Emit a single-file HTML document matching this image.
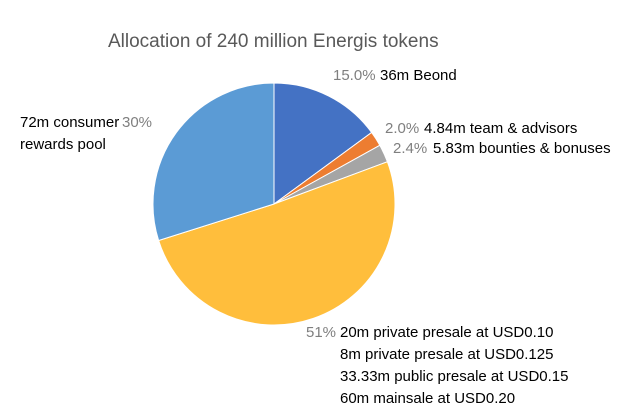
<!DOCTYPE html>
<html><head><meta charset="utf-8"><style>
body{margin:0;background:#fff;}
svg{display:block;font-family:"Liberation Sans",sans-serif;}
</style></head><body>
<svg id="chart" width="640" height="420" viewBox="0 0 640 420">
<text x="108" y="47" font-size="19" fill="#595959">Allocation of 240 million Energis tokens</text>
<g id="slices"></g>
<g id="labels" font-size="15"></g>
</svg>
<script>
const categories=["36m Beond","4.84m team & advisors","5.83m bounties & bonuses","sales","72m consumer rewards pool"];
const values=[15.0,2.0,2.4,51,30];
const pctLabels=["15.0%","2.0%","2.4%","51%","30%"];
const colors=["#4472C4","#ED7D31","#A5A5A5","#FFBE3C","#5B9BD5"];
const cx=274,cy=204,r=121;
const ns="http://www.w3.org/2000/svg";
const total=values.reduce((a,b)=>a+b,0);
const g=document.getElementById('slices');
let a0=-Math.PI/2;
function pt(a){return [cx+r*Math.cos(a),cy+r*Math.sin(a)];}
values.forEach((v,i)=>{
  const a1=a0+v/total*2*Math.PI;
  const [x0,y0]=pt(a0),[x1,y1]=pt(a1);
  const p=document.createElementNS(ns,'path');
  p.setAttribute('d',`M${cx},${cy}L${x0},${y0}A${r},${r} 0 ${a1-a0>Math.PI?1:0} 1 ${x1},${y1}Z`);
  p.setAttribute('fill',colors[i]);
  p.setAttribute('stroke','#fff');p.setAttribute('stroke-width','1');
  
  
  g.appendChild(p);
  a0=a1;
});
const L=document.getElementById('labels');
function t(x,y,s,fill,name){
  const e=document.createElementNS(ns,'text');
  e.setAttribute('x',x);e.setAttribute('y',y);e.setAttribute('fill',fill);
  e.textContent=s;
  
  
  L.appendChild(e);
}
t(333,80,pctLabels[0],"#7f7f7f","pct-label-0");
t(380,80,categories[0],"#000","label-beond");
t(385,133,pctLabels[1],"#7f7f7f","pct-label-1");
t(424,133,categories[1],"#000","label-team");
t(393,153,pctLabels[2],"#7f7f7f","pct-label-2");
t(433,153,categories[2],"#000","label-bounties");
t(306,337,pctLabels[3],"#7f7f7f","pct-label-3");
t(340,337,"20m private presale at USD0.10","#000","label-sale-1");
t(340,359,"8m private presale at USD0.125","#000","label-sale-2");
t(340,381,"33.33m public presale at USD0.15","#000","label-sale-3");
t(340,403,"60m mainsale at USD0.20","#000","label-sale-4");
t(20,127,"72m consumer","#000","label-rewards-1");
t(20,149,"rewards pool","#000","label-rewards-2");
t(122,127,pctLabels[4],"#7f7f7f","pct-label-4");
</script>
</body></html>
